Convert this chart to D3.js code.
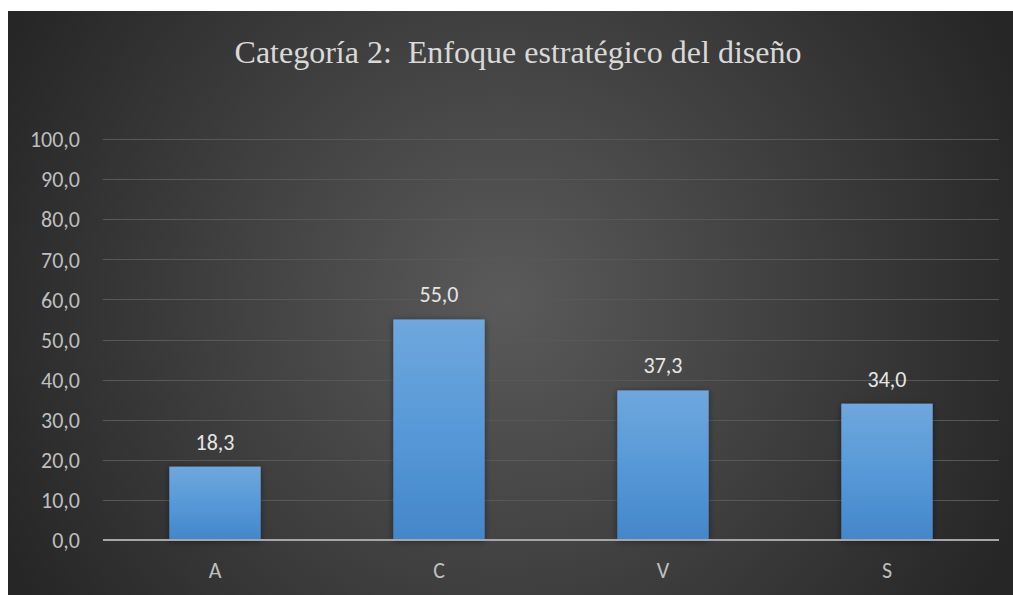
<!DOCTYPE html>
<html>
<head>
<meta charset="utf-8">
<script src="https://cdn.jsdelivr.net/npm/d3@7"></script>
<style>
  html, body { margin: 0; padding: 0; background: #ffffff; }
  svg { display: block; }
</style>
</head>
<body>
<svg id="chart" width="1013" height="595"></svg>
<script>
// Chart data
const categories = ["A", "C", "V", "S"];
const values = [18.3, 55.0, 37.3, 34.0];
const yTicks = [0, 10, 20, 30, 40, 50, 60, 70, 80, 90, 100];
const titleText = "Categoría 2:  Enfoque estratégico del diseño";

const W = 1013, H = 595;
const svg = d3.select("#chart");
const defs = svg.append("defs");
const labelFont = "Carlito, 'Open Sans', 'Liberation Sans', sans-serif";

// Dark radial background
const bg = defs.append("radialGradient").attr("id", "bgGrad")
  .attr("gradientUnits", "userSpaceOnUse")
  .attr("cx", 505).attr("cy", 300).attr("r", 560);
bg.append("stop").attr("offset", "0%").attr("stop-color", "#5a5a5a");
bg.append("stop").attr("offset", "100%").attr("stop-color", "#262626");

const barGrad = defs.append("linearGradient").attr("id", "barGrad")
  .attr("x1", 0).attr("y1", 0).attr("x2", 0).attr("y2", 1);
barGrad.append("stop").attr("offset", "0%").attr("stop-color", "#6fa7dd");
barGrad.append("stop").attr("offset", "50%").attr("stop-color", "#5799d8");
barGrad.append("stop").attr("offset", "100%").attr("stop-color", "#4387c9");

const shadow = defs.append("filter").attr("id", "barShadow")
  .attr("x", "-20%").attr("y", "-20%").attr("width", "140%").attr("height", "140%");
shadow.append("feDropShadow").attr("dx", 0).attr("dy", 1).attr("stdDeviation", 3)
  .attr("flood-color", "#000").attr("flood-opacity", 0.45);

svg.append("rect").attr("x", 8).attr("y", 11).attr("width", W - 8).attr("height", H - 11)
  .attr("fill", "url(#bgGrad)");

// Title
svg.append("text")
  .attr("x", 518).attr("y", 63)
  .attr("text-anchor", "middle")
  .style("white-space", "pre")
  .attr("font-family", "'Liberation Serif', 'Times New Roman', serif")
  .attr("font-size", 32)
  .attr("fill", "#d9d9d9")
  .text(titleText);

// Scales
const plot = { left: 103, right: 999, top: 139, bottom: 540 };
const x = d3.scaleBand().domain(categories)
  .range([plot.left, plot.right]).paddingInner(0.592).paddingOuter(0.296);
const y = d3.scaleLinear().domain([0, 100]).range([plot.bottom, plot.top]);

// Gridlines
svg.append("g")
  .selectAll("line").data(yTicks.filter(d => d > 0)).join("line")
  .attr("x1", plot.left).attr("x2", plot.right)
  .attr("y1", d => Math.round(y(d)) + 0.5).attr("y2", d => Math.round(y(d)) + 0.5)
  .attr("stroke", "#585858").attr("stroke-width", 1);

// Y axis labels
const yAxis = d3.axisLeft(y).tickValues(yTicks)
  .tickFormat(d => d3.format(".1f")(d).replace(".", ","))
  .tickSize(0).tickPadding(0);
const gy = svg.append("g").attr("transform", `translate(${plot.left - 23},0)`).call(yAxis);
gy.select(".domain").remove();
gy.selectAll("text")
  .attr("font-family", labelFont)
  .attr("font-size", 22).attr("fill", "#bfbfbf").attr("dy", "0.35em");

// Bars
svg.append("g").selectAll("rect").data(values).join("rect")
  .attr("x", (d, i) => x(categories[i]))
  .attr("y", d => y(d))
  .attr("width", x.bandwidth())
  .attr("height", d => y(0) - y(d))
  .attr("fill", "url(#barGrad)")
  .attr("filter", "url(#barShadow)");

// Data labels
svg.append("g").selectAll("text").data(values).join("text")
  .attr("x", (d, i) => x(categories[i]) + x.bandwidth() / 2)
  .attr("y", d => y(d) - 17)
  .attr("text-anchor", "middle")
  .attr("font-family", labelFont)
  .attr("font-size", 22).attr("fill", "#e6e6e6")
  .text(d => d3.format(".1f")(d).replace(".", ","));

// X axis baseline and labels
const xAxis = d3.axisBottom(x).tickSize(0).tickPadding(0);
const gx = svg.append("g").attr("transform", `translate(0,${plot.bottom})`).call(xAxis);
gx.select(".domain").attr("stroke", "#a6a6a6").attr("stroke-width", 2)
  .attr("d", `M${plot.left},0H${plot.right}`);
gx.selectAll("text")
  .attr("y", 38)
  .attr("font-family", labelFont)
  .attr("font-size", 22).attr("fill", "#bfbfbf").attr("dy", 0);
</script>
</body>
</html>
